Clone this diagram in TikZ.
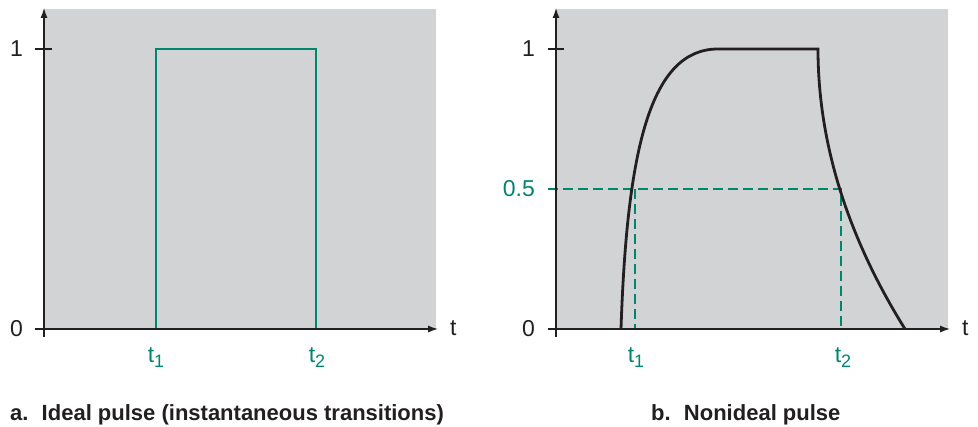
\documentclass[tikz,border=0pt]{standalone}
\usepackage{fontspec}
\setmainfont{Liberation Sans}
\usetikzlibrary{arrows.meta, positioning}
\definecolor{pgreen}{HTML}{00866E}
\definecolor{bgplot}{HTML}{D1D3D4}
\definecolor{axisk}{HTML}{231F20}
\newcommand{\tsub}[1]{t\raisebox{-5pt}{\fontsize{18}{21}\selectfont #1}}
\tikzset{
  plotbg/.style  = {fill=bgplot, draw=none},
  axis/.style    = {-{Latex[length=10pt, width=7pt]}, line width=1.2pt, draw=axisk},
  tickln/.style  = {line width=1.2pt, draw=axisk},
  pulse/.style   = {line width=2.8pt, draw=pgreen},
  slowln/.style  = {line width=2.8pt, draw=axisk, line join=miter},
  guide/.style   = {line width=2.4pt, draw=pgreen, dash pattern=on 10pt off 5pt},
  vlbl/.style    = {font=\fontsize{23}{27}\selectfont, text=axisk, inner sep=0pt, anchor=east},
  tlbl/.style    = {font=\fontsize{23}{27}\selectfont, text=pgreen, inner sep=0pt, anchor=base},
  axlbl/.style   = {font=\fontsize{23}{27}\selectfont, text=axisk, inner sep=0pt, anchor=base west},
  caplbl/.style  = {font=\fontsize{22}{26}\selectfont\bfseries, text=axisk, inner sep=0pt, anchor=base west},
}

\begin{document}
\begin{tikzpicture}[x=1pt, y=-1pt]
    \useasboundingbox (0,0) rectangle (978,427);

    % panel a: ideal pulse
    \fill[plotbg] (44,9) rectangle (436,329);
    \coordinate (aO)  at (44,329);
    \coordinate (aYb) at (44,337);
    \coordinate (aYt) at (44,8);
    \coordinate (aXr) at (438,329);
    \coordinate (aT1) at (156,329);
    \coordinate (aH1) at (156,49);
    \coordinate (aH2) at (316,49);
    \coordinate (aT2) at (316,329);
    \draw[pulse] (aT1) -- (aH1) -- (aH2) -- (aT2);
    \draw[axis] (aYb) -- (aYt);
    \draw[axis] (aO) -- (aXr);
    \draw[tickln] (35,49) -- (52,49);
    \draw[tickln] (35,329) -- (52,329);
    \node[vlbl] (a1) at (23,49)  {1};
    \node[vlbl] (a0) at (23,329) {0};
    \node[axlbl] (at) at (450,336) {t};
    \node[tlbl] (at1) at (156,363) {\tsub{1}};
    \node[tlbl] (at2) at (317,363) {\tsub{2}};
    \node[caplbl] (capa) at (10,421) {a.\hspace{0.6em}Ideal pulse (instantaneous transitions)};

    % panel b: nonideal pulse
    \fill[plotbg] (556,9) rectangle (948,329);
    \coordinate (bO)  at (556,329);
    \coordinate (bYb) at (556,337);
    \coordinate (bYt) at (556,8);
    \coordinate (bXr) at (950,329);
    \coordinate (bM)  at (548,189);
    \coordinate (bC1) at (635,189);
    \coordinate (bC2) at (841,189);
    \coordinate (bT1) at (635,329);
    \coordinate (bT2) at (841,329);
    \coordinate (bR0) at (621,329);
    \coordinate (bR1) at (718,49);
    \coordinate (bF0) at (818,49);
    \coordinate (bF1) at (905,329);
    \draw[guide] (bM) -- (bC2) -- (bT2);
    \draw[guide] (bC1) -- (bT1);
    \draw[slowln] (bR0) .. controls (627,150) and (650,49) .. (bR1)
      -- (bF0) .. controls (818,142) and (847,236) .. (bF1);
    \draw[axis] (bYb) -- (bYt);
    \draw[axis] (bO) -- (bXr);
    \draw[tickln] (548,49) -- (564,49);
    \draw[tickln] (548,329) -- (564,329);
    \node[vlbl] (b1) at (535,49)  {1};
    \node[vlbl, text=pgreen] (b05) at (535,189) {0.5};
    \node[vlbl] (b0) at (535,329) {0};
    \node[axlbl] (bt) at (962,336) {t};
    \node[tlbl] (bt1) at (636,363) {\tsub{1}};
    \node[tlbl] (bt2) at (843,363) {\tsub{2}};
    \node[caplbl] (capb) at (651,421) {b.\hspace{0.6em}Nonideal pulse};
  \end{tikzpicture}
\end{document}
